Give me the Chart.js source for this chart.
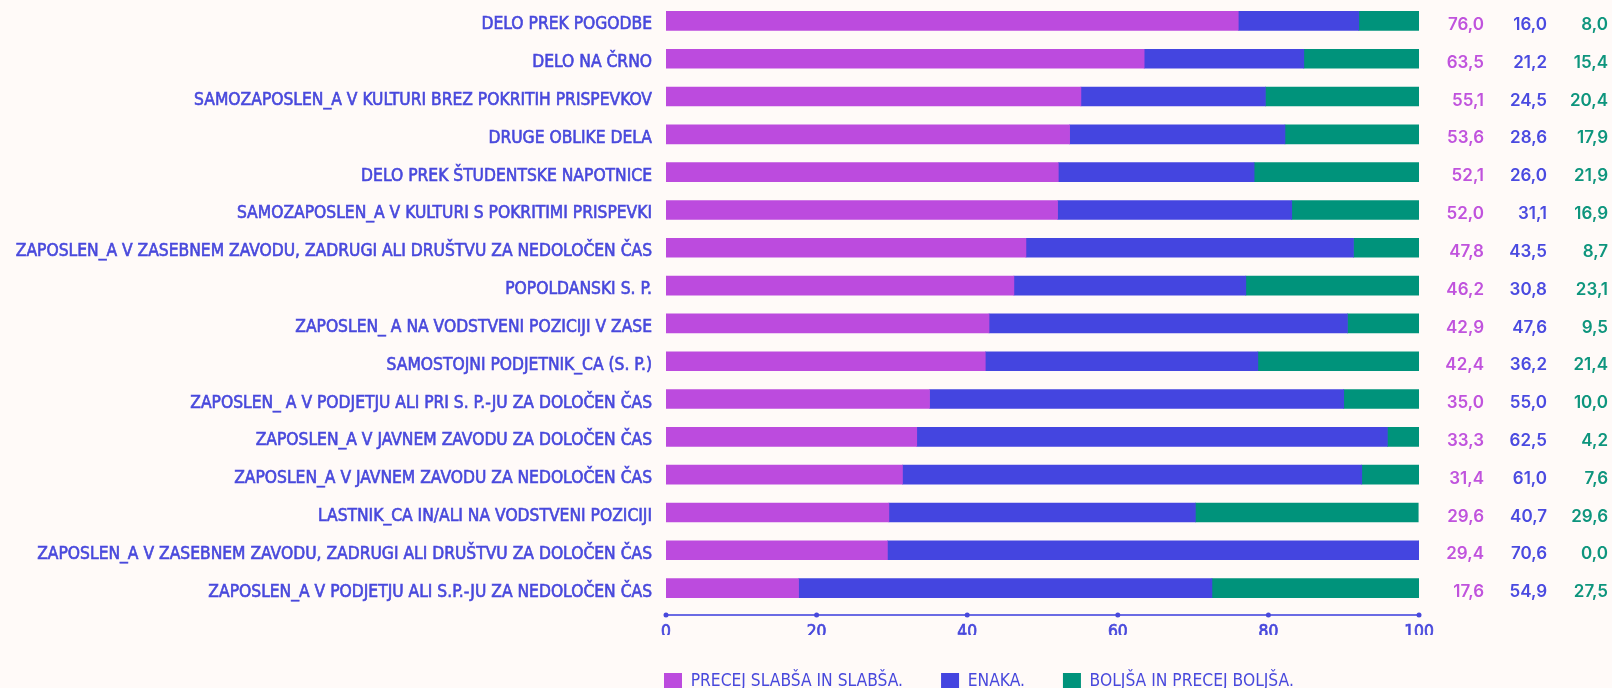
<!DOCTYPE html>
<html>
<head>
<meta charset="utf-8">
<script src="https://cdn.jsdelivr.net/npm/chart.js@4.4.1/dist/chart.umd.min.js"></script>
<style>
  html, body { margin: 0; padding: 0; background: #fffaf8; overflow: hidden; }
  #wrap { width: 1612px; height: 701px; }
</style>
</head>
<body>
<div id="wrap"><canvas id="barChart" width="1612" height="701"></canvas></div>
<script>
document.title = "Chart"

const categories = [
  "DELO PREK POGODBE",
  "DELO NA ČRNO",
  "SAMOZAPOSLEN_A V KULTURI BREZ POKRITIH PRISPEVKOV",
  "DRUGE OBLIKE DELA",
  "DELO PREK ŠTUDENTSKE NAPOTNICE",
  "SAMOZAPOSLEN_A V KULTURI S POKRITIMI PRISPEVKI",
  "ZAPOSLEN_A V ZASEBNEM ZAVODU, ZADRUGI ALI DRUŠTVU ZA NEDOLOČEN ČAS",
  "POPOLDANSKI S. P.",
  "ZAPOSLEN_ A NA VODSTVENI POZICIJI V ZASE",
  "SAMOSTOJNI PODJETNIK_CA (S. P.)",
  "ZAPOSLEN_ A V PODJETJU ALI PRI S. P.-JU ZA DOLOČEN ČAS",
  "ZAPOSLEN_A V JAVNEM ZAVODU ZA DOLOČEN ČAS",
  "ZAPOSLEN_A V JAVNEM ZAVODU ZA NEDOLOČEN ČAS",
  "LASTNIK_CA IN/ALI NA VODSTVENI POZICIJI",
  "ZAPOSLEN_A V ZASEBNEM ZAVODU, ZADRUGI ALI DRUŠTVU ZA DOLOČEN ČAS",
  "ZAPOSLEN_A V PODJETJU ALI S.P.-JU ZA NEDOLOČEN ČAS"
];

const worse  = [76.0, 63.5, 55.1, 53.6, 52.1, 52.0, 47.8, 46.2, 42.9, 42.4, 35.0, 33.3, 31.4, 29.6, 29.4, 17.6];
const same   = [16.0, 21.2, 24.5, 28.6, 26.0, 31.1, 43.5, 30.8, 47.6, 36.2, 55.0, 62.5, 61.0, 40.7, 70.6, 54.9];
const better = [ 8.0, 15.4, 20.4, 17.9, 21.9, 16.9,  8.7, 23.1,  9.5, 21.4, 10.0,  4.2,  7.6, 29.6,  0.0, 27.5];

const seriesNames = ["PRECEJ SLABŠA IN SLABŠA.", "ENAKA.", "BOLJŠA IN PRECEJ BOLJŠA."];
const seriesColors = ["#bc4bde", "#4445e0", "#00937b"];
const valueColors = ["#c053dd", "#4a4ae0", "#0e957d"];

const textBlue = "#4848dc";
const condFont = "'DejaVu Sans Condensed', 'Liberation Sans Narrow', sans-serif";

// numbers in three columns right of the bars
const valueColumns = {
  id: "valueColumns",
  afterDatasetsDraw(chart) {
    const { ctx, chartArea, scales } = chart;
    const cols = [worse, same, better];
    const offsets = [65, 128, 189];
    ctx.save();
    ctx.font = "600 17px Inter, 'Open Sans', sans-serif";
    ctx.textAlign = "right";
    ctx.textBaseline = "middle";
    cols.forEach((arr, c) => {
      ctx.fillStyle = valueColors[c];
      arr.forEach((v, i) => {
        const y = scales.y.getPixelForValue(i) + 4;
        ctx.fillText(v.toFixed(1).replace(".", ","), chartArea.right + offsets[c], y);
      });
    });
    ctx.restore();
  }
};

// axis line with dots under the bars
const axisDots = {
  id: "axisDots",
  afterDraw(chart) {
    const { ctx, chartArea, scales } = chart;
    const x = scales.x;
    const y = chartArea.bottom + 8;
    ctx.save();
    ctx.strokeStyle = "#6b6be4";
    ctx.lineWidth = 2;
    ctx.beginPath();
    ctx.moveTo(x.getPixelForValue(0), y);
    ctx.lineTo(x.getPixelForValue(100), y);
    ctx.stroke();
    ctx.fillStyle = textBlue;
    x.ticks.forEach(t => {
      ctx.beginPath();
      ctx.arc(x.getPixelForValue(t.value), y, 2.5, 0, Math.PI * 2);
      ctx.fill();
    });
    ctx.restore();
  }
};

// legend starts under the plot, not at the canvas edge
const legendShift = {
  id: "legendShift",
  beforeDraw(chart) {
    const lg = chart.legend;
    if (lg) {
      const w = lg.right - lg.left;
      lg.left = chart.chartArea.left - 2 - lg.options.labels.padding;
      lg.right = lg.left + w;
    }
  }
};

const ctx = document.querySelector("#barChart").getContext("2d");
const barChart = new Chart(ctx, {
  type: "bar",
  data: {
    labels: categories,
    datasets: [
      { label: seriesNames[0], data: worse, backgroundColor: seriesColors[0] },
      { label: seriesNames[1], data: same, backgroundColor: seriesColors[1] },
      { label: seriesNames[2], data: better, backgroundColor: seriesColors[2] }
    ]
  },
  options: {
    indexAxis: "y",
    responsive: false,
    animation: false,
    barThickness: 19,
    layout: { padding: { left: 0, right: 193, top: 2, bottom: 0 } },
    scales: {
      x: {
        stacked: true,
        min: 0,
        max: 100,
        ticks: {
          stepSize: 20, color: textBlue, padding: 7,
          textStrokeColor: textBlue, textStrokeWidth: 0.7,
          font: { family: condFont, size: 17.3 }
        },
        grid: { display: false },
        border: { display: false },
        afterFit(scale) { scale.height = 28; }
      },
      y: {
        stacked: true,
        ticks: {
          color: textBlue, padding: 6, labelOffset: 4,
          textStrokeColor: textBlue, textStrokeWidth: 0.6,
          font: { family: condFont, size: 17.3 }
        },
        grid: { display: false },
        border: { display: false },
        afterFit(scale) {
          scale.width = 666;
          scale.paddingTop = 0;
          scale.paddingBottom = 0;
        }
      }
    },
    plugins: {
      legend: {
        position: "bottom",
        align: "start",
        labels: {
          boxWidth: 18,
          boxHeight: 18,
          padding: 38,
          color: textBlue,
          font: { family: condFont, size: 17.3 }
        }
      },
      tooltip: { enabled: false }
    }
  },
  plugins: [valueColumns, axisDots, legendShift]
});
</script>
</body>
</html>
